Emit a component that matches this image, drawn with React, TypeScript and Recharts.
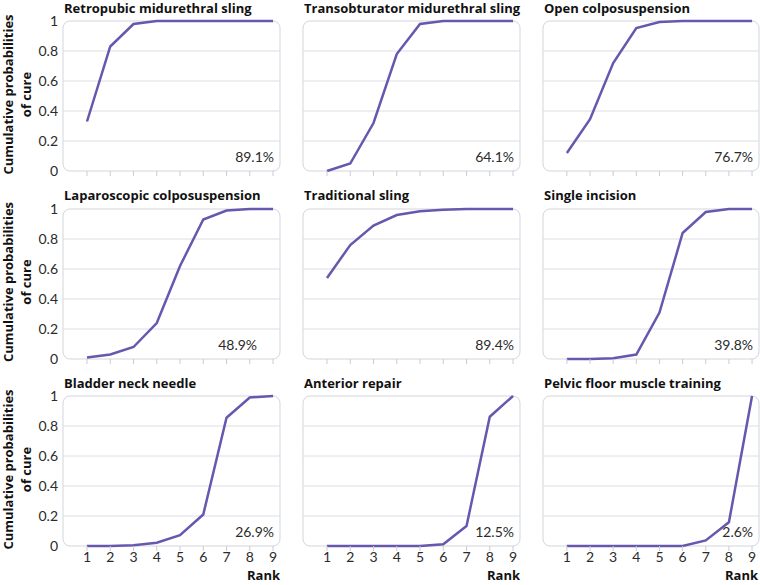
import React from 'react';
import { LineChart, Line, XAxis, YAxis, ReferenceArea, ReferenceLine, ReferenceDot } from 'recharts';

const ranks = [1, 2, 3, 4, 5, 6, 7, 8, 9];
const titles = [
  'Retropubic midurethral sling',
  'Transobturator midurethral sling',
  'Open colposuspension',
  'Laparoscopic colposuspension',
  'Traditional sling',
  'Single incision',
  'Bladder neck needle',
  'Anterior repair',
  'Pelvic floor muscle training',
];
const retropubic = [0.33, 0.83, 0.98, 1, 1, 1, 1, 1, 1];
const transobturator = [0, 0.05, 0.32, 0.78, 0.98, 1, 1, 1, 1];
const openColpo = [0.12, 0.345, 0.72, 0.953, 0.993, 1, 1, 1, 1];
const laparoscopic = [0.01, 0.03, 0.08, 0.24, 0.62, 0.93, 0.99, 1, 1];
const traditional = [0.54, 0.76, 0.89, 0.96, 0.985, 0.995, 1, 1, 1];
const singleIncision = [0, 0, 0.005, 0.03, 0.31, 0.84, 0.98, 1, 1];
const bladderNeck = [0, 0, 0.005, 0.022, 0.072, 0.21, 0.855, 0.99, 1];
const anteriorRepair = [0, 0, 0, 0, 0, 0.011, 0.133, 0.862, 1];
const pelvicFloor = [0, 0, 0, 0, 0, 0, 0.037, 0.158, 1];
const seriesList = [
  retropubic, transobturator, openColpo,
  laparoscopic, traditional, singleIncision,
  bladderNeck, anteriorRepair, pelvicFloor,
];
const sucraLabels = ['89.1%', '64.1%', '76.7%', '48.9%', '89.4%', '39.8%', '26.9%', '12.5%', '2.6%'];
const yTicks = [0, 0.2, 0.4, 0.6, 0.8, 1];
const gridValues = [0.2, 0.4, 0.6, 0.8];

// layout
const FONT = 'Lato, "Open Sans", "DejaVu Sans", sans-serif';
const BOLD_FONT = '"Open Sans", Lato, "DejaVu Sans", sans-serif';
const COL_W = 240;
const ROW_H = 187.5;
const PLOT_TOP0 = 21;
const PLOT_H = 150;
const PLOT_LEFT0 = 63;
const PLOT_W = 217;
const M_TOP = 10;
const X_AXIS_H = 30;
const labelAnchorRank = [9, 9, 9, 8.27, 9, 9, 9, 9, 9];

const LINE_COLOR = '#6757ae';
const GRID_COLOR = '#dcdee5';
const BOX_COLOR = '#d3d5dd';
const TEXT_COLOR = '#2b2b2b';

function Panel({ index }: { index: number }) {
  const col = index % 3;
  const row = Math.floor(index / 3);
  const values = seriesList[index];
  const data = ranks.map((r, i) => ({ rank: r, p: values[i] }));
  const plotW = col === 2 ? PLOT_W - 1 : PLOT_W;
  const width = PLOT_LEFT0 + plotW + (col === 2 ? 1 : 4);
  const height = M_TOP + PLOT_H + X_AXIS_H;
  const top = PLOT_TOP0 + ROW_H * row - M_TOP;
  const isBottom = row === 2;
  const isLeft = col === 0;
  const label = sucraLabels[index];

  return (
    <div style={{ position: 'absolute', left: COL_W * col, top, width, height }}>
      <LineChart
        width={width}
        height={height}
        data={data}
        margin={{ top: M_TOP, right: width - PLOT_LEFT0 - plotW, bottom: 0, left: 0 }}
      >
        <XAxis
          dataKey="rank"
          type="number"
          domain={[-0.032, 9.3]}
          allowDataOverflow
          ticks={ranks}
          interval={0}
          height={X_AXIS_H}
          axisLine={false}
          tickLine={{ stroke: '#c9ccd4' }}
          tickSize={5}
          tickMargin={1}
          tick={{ fontSize: 14, fill: TEXT_COLOR, fontFamily: FONT }}
          tickFormatter={(v: number) => (isBottom ? String(v) : '')}
        />
        <YAxis
          type="number"
          domain={[0, 1]}
          ticks={yTicks}
          width={PLOT_LEFT0}
          axisLine={false}
          tickLine={false}
          tickSize={0}
          tickMargin={5}
          interval={0}
          tick={{ fontSize: 14, fill: TEXT_COLOR, fontFamily: FONT }}
          tickFormatter={(v: number) => (isLeft ? String(v) : '')}
        />
        {gridValues.map((g) => (
          <ReferenceLine key={g} y={g} stroke={GRID_COLOR} strokeWidth={1} />
        ))}
        <ReferenceArea
          y1={0}
          y2={1}
          shape={(p: any) => (
            <rect
              x={p.x}
              y={p.y}
              width={p.width}
              height={p.height}
              rx={7}
              ry={7}
              fill="none"
              stroke={BOX_COLOR}
              strokeWidth={1}
            />
          )}
        />
        <ReferenceDot
          x={labelAnchorRank[index]}
          y={0}
          r={0}
          fill="none"
          stroke="none"
          label={{
            content: (lp: any) => {
              const vb = lp.viewBox || {};
              const cx = (vb.x ?? 0) + (vb.width ?? 0) / 2;
              const cy = (vb.y ?? 0) + (vb.height ?? 0) / 2;
              return (
                <text
                  x={cx + 1}
                  y={cy - 8.7}
                  textAnchor="end"
                  fontSize={14}
                  fill={TEXT_COLOR}
                  fontFamily={FONT}
                >
                  {label}
                </text>
              );
            },
          }}
        />
        <Line
          type="linear"
          dataKey="p"
          stroke={LINE_COLOR}
          strokeWidth={2.5}
          dot={false}
          activeDot={false}
          isAnimationActive={false}
        />
      </LineChart>
    </div>
  );
}

export default function App() {
  return (
    <div
      style={{
        position: 'absolute',
        left: 0,
        top: 0,
        width: 760,
        height: 585,
        background: '#fff',
        overflow: 'hidden',
        fontFamily: FONT,
      }}
    >
      {titles.map((_, i) => (
        <Panel key={i} index={i} />
      ))}
      <svg
        width={760}
        height={585}
        style={{ position: 'absolute', left: 0, top: 0, pointerEvents: 'none' }}
      >
        {titles.map((t, i) => {
          const col = i % 3;
          const row = Math.floor(i / 3);
          return (
            <text
              key={t}
              x={PLOT_LEFT0 + COL_W * col + 1}
              y={12.8 + ROW_H * row}
              fontSize={13}
              fontWeight={700}
              fill="#111"
              fontFamily={BOLD_FONT}
            >
              {t}
            </text>
          );
        })}
        {[0, 1, 2].map((row) => {
          const cy = PLOT_TOP0 + ROW_H * row + PLOT_H / 2 - 1.5;
          return (
            <g key={row}>
              <text
                transform={`translate(13, ${cy}) rotate(-90)`}
                textAnchor="middle"
                fontSize={13}
                fontWeight={700}
                fill="#111"
                fontFamily={BOLD_FONT}
              >
                Cumulative probabilities
              </text>
              <text
                transform={`translate(30.5, ${cy}) rotate(-90)`}
                textAnchor="middle"
                fontSize={13}
                fontWeight={700}
                fill="#111"
                fontFamily={BOLD_FONT}
              >
                of cure
              </text>
            </g>
          );
        })}
        {[0, 1, 2].map((col) => (
          <text
            key={col}
            x={PLOT_LEFT0 + COL_W * col + PLOT_W - (col === 2 ? 2 : 0)}
            y={580}
            textAnchor="end"
            fontSize={13}
            fontWeight={700}
            fill="#111"
            fontFamily={BOLD_FONT}
          >
            Rank
          </text>
        ))}
      </svg>
    </div>
  );
}
